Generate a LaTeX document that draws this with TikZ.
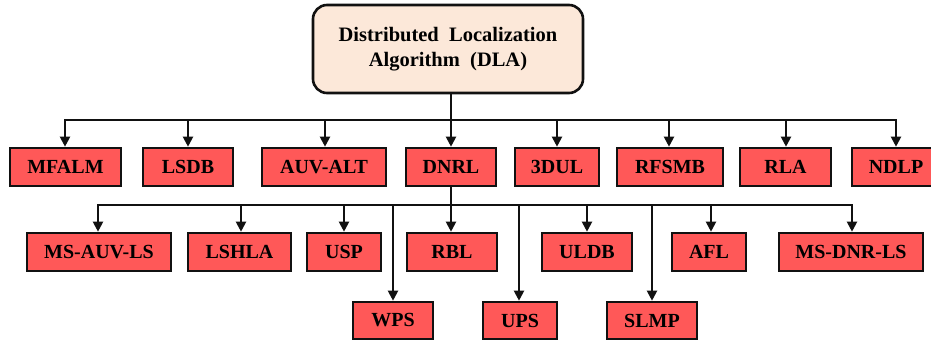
\documentclass[tikz,border=0pt]{standalone}
\usepackage{fontspec}
\setmainfont{Liberation Serif}
\usetikzlibrary{arrows.meta}
\definecolor{boxred}{RGB}{255,88,88}
\definecolor{rootfill}{RGB}{252,232,217}
\definecolor{edge}{RGB}{17,17,17}
\tikzset{
  leaf/.style={draw=edge, line width=2.6pt, fill=boxred, inner sep=0pt,
    font=\fontsize{20}{22}\selectfont\bfseries},
  rootbox/.style={draw=edge, line width=2.6pt, fill=rootfill, rounded corners=14pt,
    inner sep=0pt, align=center, font=\fontsize{20.5}{25}\selectfont\bfseries},
  conn/.style={draw=edge, line width=2pt},
  arr/.style={conn, -{Triangle[width=10pt,length=10pt]}}
}
\newcommand{\leafnode}[6]{% name, x1, x2, y1, y2, text
  \node[leaf, minimum width=#3-#2, minimum height=#5-#4] (#1) at ({(#2+#3)/2},{(#4+#5)/2}) {#6};}
\begin{document}
\begin{tikzpicture}[x=1pt,y=-1pt]
\useasboundingbox (0,0) rectangle (931,344);
\clip (0,0) rectangle (931,344);
\node[rootbox, minimum width=270, minimum height=88] (root) at (448,49)
  {Distributed\ \ Localization\\Algorithm\ \ (DLA)};
% row 1
\leafnode{mfalm}{10}{121}{148}{186}{MFALM}
\leafnode{lsdb}{143}{233}{148}{186}{LSDB}
\leafnode{auvalt}{262}{386}{148}{186}{AUV-ALT}
\leafnode{dnrl}{406}{496}{148}{186}{DNRL}
\leafnode{dul}{515}{599}{148}{186}{3DUL}
\leafnode{rfsmb}{617}{723}{148}{186}{RFSMB}
\leafnode{rla}{740}{831}{148}{186}{RLA}
\leafnode{ndlp}{852}{940}{148}{186}{NDLP}
% row 2
\leafnode{msauv}{27}{171}{233}{271}{MS-AUV-LS}
\leafnode{lshla}{188}{291}{233}{271}{LSHLA}
\leafnode{usp}{307}{381}{233}{271}{USP}
\leafnode{rbl}{407}{497}{233}{271}{RBL}
\leafnode{uldb}{542}{632}{233}{271}{ULDB}
\leafnode{afl}{672}{746}{233}{271}{AFL}
\leafnode{msdnr}{779}{923}{233}{271}{MS-DNR-LS}
% row 3
\leafnode{wps}{353}{433}{302}{339}{WPS}
\leafnode{ups}{483}{557}{302}{339}{UPS}
\leafnode{slmp}{607}{697}{302}{339}{SLMP}
% buses
\coordinate (b1) at (451,120);
\coordinate (b2) at (451,205);
\draw[conn] (root.south -| b1) -- (b1);
\draw[conn, line cap=rect] (b1 -| 65,0) -- (b1 -| 896,0);
\draw[conn] (dnrl.south -| b2) -- (b2);
\draw[conn, line cap=rect] (b2 -| 98,0) -- (b2 -| 852,0);
% row 1 arrows
\foreach \n/\x in {mfalm/65, lsdb/188, auvalt/325, dnrl/451, dul/557, rfsmb/669, rla/786, ndlp/896}
  \draw[arr] (b1 -| \x,0) -- (\n.north -| \x,0);
% row 2 arrows
\foreach \n/\x in {msauv/98, lshla/241, usp/344, rbl/451, uldb/587, afl/711, msdnr/852, wps/393, ups/519, slmp/652}
  \draw[arr] (b2 -| \x,0) -- (\n.north -| \x,0);
\end{tikzpicture}
\end{document}
